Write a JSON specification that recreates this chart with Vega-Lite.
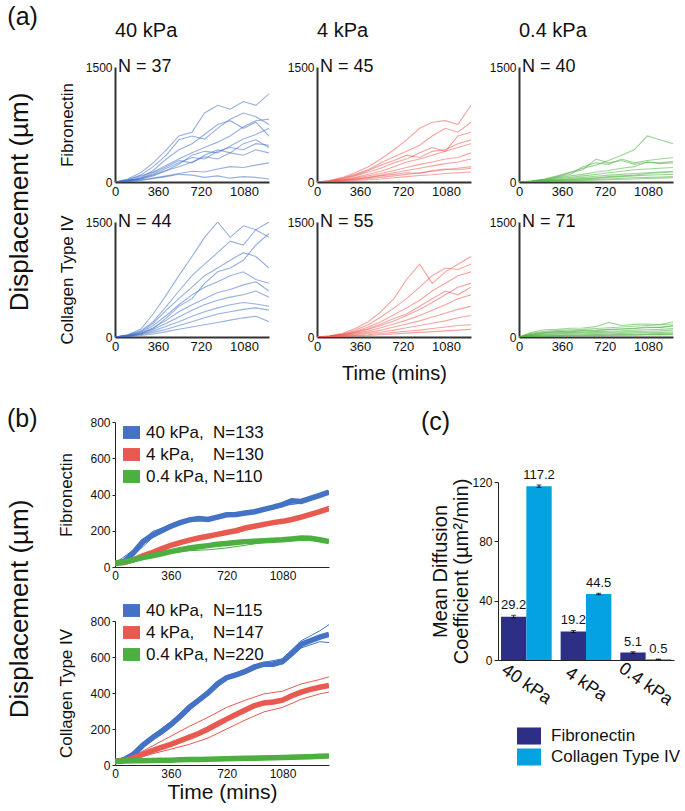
{
"$schema":"https://vega.github.io/schema/vega-lite/v6.json",
"background":"white",
"padding":{"left":6,"top":5,"right":4,"bottom":4},
"config":{
 "font":"Liberation Sans",
 "view":{"stroke":null},
 "axis":{"grid":false,"ticks":false,"domainColor":"#333","labelColor":"#111","titleColor":"#111","titleFontWeight":"normal","labelFont":"Liberation Sans","titleFont":"Liberation Sans","labelFlush":false,"labelOverlap":false},
 "axisX":{"labelFontSize":13,"labelPadding":3,"domainWidth":2},
 "axisY":{"labelFontSize":12,"labelPadding":3,"domainWidth":2,"titleFontSize":17,"titlePadding":9},
 "title":{"fontWeight":"normal","font":"Liberation Sans","color":"#111"},
 "text":{"font":"Liberation Sans","color":"#111"},
 "legend":{"labelFont":"Liberation Sans","labelColor":"#111"}
},
"datasets":{
"a1":[
{"i":1,"t":0,"v":0},{"i":1,"t":105,"v":40},{"i":1,"t":215,"v":120},{"i":1,"t":320,"v":250},{"i":1,"t":430,"v":420},{"i":1,"t":535,"v":600},{"i":1,"t":645,"v":650},{"i":1,"t":750,"v":900},{"i":1,"t":860,"v":1000},{"i":1,"t":965,"v":950},{"i":1,"t":1075,"v":1050},{"i":1,"t":1180,"v":1000},{"i":1,"t":1290,"v":1150},
{"i":2,"t":0,"v":0},{"i":2,"t":105,"v":30},{"i":2,"t":215,"v":90},{"i":2,"t":320,"v":200},{"i":2,"t":430,"v":350},{"i":2,"t":535,"v":550},{"i":2,"t":645,"v":600},{"i":2,"t":750,"v":560},{"i":2,"t":860,"v":700},{"i":2,"t":965,"v":820},{"i":2,"t":1075,"v":900},{"i":2,"t":1180,"v":850},{"i":2,"t":1290,"v":750},
{"i":3,"t":0,"v":0},{"i":3,"t":105,"v":20},{"i":3,"t":215,"v":60},{"i":3,"t":320,"v":150},{"i":3,"t":430,"v":300},{"i":3,"t":535,"v":420},{"i":3,"t":645,"v":500},{"i":3,"t":750,"v":620},{"i":3,"t":860,"v":750},{"i":3,"t":965,"v":800},{"i":3,"t":1075,"v":700},{"i":3,"t":1180,"v":780},{"i":3,"t":1290,"v":600},
{"i":4,"t":0,"v":0},{"i":4,"t":105,"v":25},{"i":4,"t":215,"v":80},{"i":4,"t":320,"v":130},{"i":4,"t":430,"v":220},{"i":4,"t":535,"v":300},{"i":4,"t":645,"v":380},{"i":4,"t":750,"v":450},{"i":4,"t":860,"v":520},{"i":4,"t":965,"v":600},{"i":4,"t":1075,"v":720},{"i":4,"t":1180,"v":800},{"i":4,"t":1290,"v":820},
{"i":5,"t":0,"v":0},{"i":5,"t":105,"v":15},{"i":5,"t":215,"v":50},{"i":5,"t":320,"v":100},{"i":5,"t":430,"v":180},{"i":5,"t":535,"v":250},{"i":5,"t":645,"v":320},{"i":5,"t":750,"v":300},{"i":5,"t":860,"v":400},{"i":5,"t":965,"v":450},{"i":5,"t":1075,"v":420},{"i":5,"t":1180,"v":500},{"i":5,"t":1290,"v":480},
{"i":6,"t":0,"v":0},{"i":6,"t":105,"v":20},{"i":6,"t":215,"v":40},{"i":6,"t":320,"v":90},{"i":6,"t":430,"v":150},{"i":6,"t":535,"v":200},{"i":6,"t":645,"v":260},{"i":6,"t":750,"v":330},{"i":6,"t":860,"v":300},{"i":6,"t":965,"v":380},{"i":6,"t":1075,"v":350},{"i":6,"t":1180,"v":420},{"i":6,"t":1290,"v":380},
{"i":7,"t":0,"v":0},{"i":7,"t":105,"v":15},{"i":7,"t":215,"v":45},{"i":7,"t":320,"v":120},{"i":7,"t":430,"v":200},{"i":7,"t":535,"v":280},{"i":7,"t":645,"v":250},{"i":7,"t":750,"v":350},{"i":7,"t":860,"v":420},{"i":7,"t":965,"v":380},{"i":7,"t":1075,"v":500},{"i":7,"t":1180,"v":550},{"i":7,"t":1290,"v":450},
{"i":8,"t":0,"v":0},{"i":8,"t":105,"v":12},{"i":8,"t":215,"v":35},{"i":8,"t":320,"v":80},{"i":8,"t":430,"v":150},{"i":8,"t":535,"v":230},{"i":8,"t":645,"v":350},{"i":8,"t":750,"v":400},{"i":8,"t":860,"v":380},{"i":8,"t":965,"v":470},{"i":8,"t":1075,"v":560},{"i":8,"t":1180,"v":620},{"i":8,"t":1290,"v":700},
{"i":9,"t":0,"v":0},{"i":9,"t":105,"v":10},{"i":9,"t":215,"v":25},{"i":9,"t":320,"v":50},{"i":9,"t":430,"v":80},{"i":9,"t":535,"v":110},{"i":9,"t":645,"v":140},{"i":9,"t":750,"v":130},{"i":9,"t":860,"v":170},{"i":9,"t":965,"v":200},{"i":9,"t":1075,"v":190},{"i":9,"t":1180,"v":220},{"i":9,"t":1290,"v":250},
{"i":10,"t":0,"v":0},{"i":10,"t":105,"v":8},{"i":10,"t":215,"v":20},{"i":10,"t":320,"v":45},{"i":10,"t":430,"v":70},{"i":10,"t":535,"v":100},{"i":10,"t":645,"v":90},{"i":10,"t":750,"v":60},{"i":10,"t":860,"v":80},{"i":10,"t":965,"v":50},{"i":10,"t":1075,"v":70},{"i":10,"t":1180,"v":60},{"i":10,"t":1290,"v":40}
],
"a2":[
{"i":1,"t":0,"v":0},{"i":1,"t":105,"v":20},{"i":1,"t":215,"v":60},{"i":1,"t":320,"v":120},{"i":1,"t":430,"v":200},{"i":1,"t":535,"v":300},{"i":1,"t":645,"v":420},{"i":1,"t":750,"v":550},{"i":1,"t":860,"v":700},{"i":1,"t":965,"v":780},{"i":1,"t":1075,"v":800},{"i":1,"t":1180,"v":750},{"i":1,"t":1290,"v":1000},
{"i":2,"t":0,"v":0},{"i":2,"t":105,"v":15},{"i":2,"t":215,"v":50},{"i":2,"t":320,"v":100},{"i":2,"t":430,"v":160},{"i":2,"t":535,"v":250},{"i":2,"t":645,"v":330},{"i":2,"t":750,"v":400},{"i":2,"t":860,"v":480},{"i":2,"t":965,"v":600},{"i":2,"t":1075,"v":700},{"i":2,"t":1180,"v":650},{"i":2,"t":1290,"v":780},
{"i":3,"t":0,"v":0},{"i":3,"t":105,"v":10},{"i":3,"t":215,"v":40},{"i":3,"t":320,"v":80},{"i":3,"t":430,"v":130},{"i":3,"t":535,"v":180},{"i":3,"t":645,"v":250},{"i":3,"t":750,"v":300},{"i":3,"t":860,"v":380},{"i":3,"t":965,"v":450},{"i":3,"t":1075,"v":400},{"i":3,"t":1180,"v":600},{"i":3,"t":1290,"v":650},
{"i":4,"t":0,"v":0},{"i":4,"t":105,"v":10},{"i":4,"t":215,"v":30},{"i":4,"t":320,"v":60},{"i":4,"t":430,"v":100},{"i":4,"t":535,"v":140},{"i":4,"t":645,"v":200},{"i":4,"t":750,"v":260},{"i":4,"t":860,"v":300},{"i":4,"t":965,"v":350},{"i":4,"t":1075,"v":400},{"i":4,"t":1180,"v":450},{"i":4,"t":1290,"v":500},
{"i":5,"t":0,"v":0},{"i":5,"t":105,"v":8},{"i":5,"t":215,"v":25},{"i":5,"t":320,"v":50},{"i":5,"t":430,"v":80},{"i":5,"t":535,"v":110},{"i":5,"t":645,"v":150},{"i":5,"t":750,"v":190},{"i":5,"t":860,"v":230},{"i":5,"t":965,"v":260},{"i":5,"t":1075,"v":300},{"i":5,"t":1180,"v":320},{"i":5,"t":1290,"v":380},
{"i":6,"t":0,"v":0},{"i":6,"t":105,"v":5},{"i":6,"t":215,"v":20},{"i":6,"t":320,"v":40},{"i":6,"t":430,"v":60},{"i":6,"t":535,"v":90},{"i":6,"t":645,"v":120},{"i":6,"t":750,"v":150},{"i":6,"t":860,"v":180},{"i":6,"t":965,"v":210},{"i":6,"t":1075,"v":240},{"i":6,"t":1180,"v":260},{"i":6,"t":1290,"v":300},
{"i":7,"t":0,"v":0},{"i":7,"t":105,"v":5},{"i":7,"t":215,"v":15},{"i":7,"t":320,"v":30},{"i":7,"t":430,"v":45},{"i":7,"t":535,"v":60},{"i":7,"t":645,"v":80},{"i":7,"t":750,"v":100},{"i":7,"t":860,"v":120},{"i":7,"t":965,"v":140},{"i":7,"t":1075,"v":160},{"i":7,"t":1180,"v":180},{"i":7,"t":1290,"v":200},
{"i":8,"t":0,"v":0},{"i":8,"t":105,"v":3},{"i":8,"t":215,"v":10},{"i":8,"t":320,"v":20},{"i":8,"t":430,"v":30},{"i":8,"t":535,"v":40},{"i":8,"t":645,"v":55},{"i":8,"t":750,"v":70},{"i":8,"t":860,"v":85},{"i":8,"t":965,"v":95},{"i":8,"t":1075,"v":110},{"i":8,"t":1180,"v":120},{"i":8,"t":1290,"v":130},
{"i":9,"t":0,"v":0},{"i":9,"t":105,"v":12},{"i":9,"t":215,"v":45},{"i":9,"t":320,"v":90},{"i":9,"t":430,"v":150},{"i":9,"t":535,"v":220},{"i":9,"t":645,"v":280},{"i":9,"t":750,"v":350},{"i":9,"t":860,"v":320},{"i":9,"t":965,"v":400},{"i":9,"t":1075,"v":420},{"i":9,"t":1180,"v":500},{"i":9,"t":1290,"v":550},
{"i":10,"t":0,"v":0},{"i":10,"t":105,"v":6},{"i":10,"t":215,"v":20},{"i":10,"t":320,"v":35},{"i":10,"t":430,"v":55},{"i":10,"t":535,"v":80},{"i":10,"t":645,"v":100},{"i":10,"t":750,"v":120},{"i":10,"t":860,"v":110},{"i":10,"t":965,"v":150},{"i":10,"t":1075,"v":170},{"i":10,"t":1180,"v":160},{"i":10,"t":1290,"v":180}
],
"a3":[
{"i":1,"t":0,"v":0},{"i":1,"t":105,"v":15},{"i":1,"t":215,"v":40},{"i":1,"t":320,"v":80},{"i":1,"t":430,"v":130},{"i":1,"t":535,"v":180},{"i":1,"t":645,"v":220},{"i":1,"t":750,"v":280},{"i":1,"t":860,"v":350},{"i":1,"t":965,"v":420},{"i":1,"t":1075,"v":600},{"i":1,"t":1180,"v":550},{"i":1,"t":1290,"v":500},
{"i":2,"t":0,"v":0},{"i":2,"t":105,"v":10},{"i":2,"t":215,"v":30},{"i":2,"t":320,"v":60},{"i":2,"t":430,"v":100},{"i":2,"t":535,"v":200},{"i":2,"t":645,"v":250},{"i":2,"t":750,"v":230},{"i":2,"t":860,"v":300},{"i":2,"t":965,"v":250},{"i":2,"t":1075,"v":280},{"i":2,"t":1180,"v":300},{"i":2,"t":1290,"v":320},
{"i":3,"t":0,"v":0},{"i":3,"t":105,"v":8},{"i":3,"t":215,"v":25},{"i":3,"t":320,"v":50},{"i":3,"t":430,"v":80},{"i":3,"t":535,"v":100},{"i":3,"t":645,"v":130},{"i":3,"t":750,"v":150},{"i":3,"t":860,"v":180},{"i":3,"t":965,"v":200},{"i":3,"t":1075,"v":260},{"i":3,"t":1180,"v":250},{"i":3,"t":1290,"v":270},
{"i":4,"t":0,"v":0},{"i":4,"t":105,"v":6},{"i":4,"t":215,"v":20},{"i":4,"t":320,"v":40},{"i":4,"t":430,"v":60},{"i":4,"t":535,"v":80},{"i":4,"t":645,"v":100},{"i":4,"t":750,"v":120},{"i":4,"t":860,"v":140},{"i":4,"t":965,"v":160},{"i":4,"t":1075,"v":170},{"i":4,"t":1180,"v":180},{"i":4,"t":1290,"v":190},
{"i":5,"t":0,"v":0},{"i":5,"t":105,"v":5},{"i":5,"t":215,"v":15},{"i":5,"t":320,"v":30},{"i":5,"t":430,"v":45},{"i":5,"t":535,"v":60},{"i":5,"t":645,"v":75},{"i":5,"t":750,"v":90},{"i":5,"t":860,"v":100},{"i":5,"t":965,"v":110},{"i":5,"t":1075,"v":120},{"i":5,"t":1180,"v":130},{"i":5,"t":1290,"v":140},
{"i":6,"t":0,"v":0},{"i":6,"t":105,"v":4},{"i":6,"t":215,"v":12},{"i":6,"t":320,"v":20},{"i":6,"t":430,"v":30},{"i":6,"t":535,"v":40},{"i":6,"t":645,"v":50},{"i":6,"t":750,"v":60},{"i":6,"t":860,"v":70},{"i":6,"t":965,"v":80},{"i":6,"t":1075,"v":90},{"i":6,"t":1180,"v":95},{"i":6,"t":1290,"v":100},
{"i":7,"t":0,"v":0},{"i":7,"t":105,"v":3},{"i":7,"t":215,"v":8},{"i":7,"t":320,"v":15},{"i":7,"t":430,"v":20},{"i":7,"t":535,"v":28},{"i":7,"t":645,"v":35},{"i":7,"t":750,"v":40},{"i":7,"t":860,"v":48},{"i":7,"t":965,"v":55},{"i":7,"t":1075,"v":60},{"i":7,"t":1180,"v":65},{"i":7,"t":1290,"v":70},
{"i":8,"t":0,"v":0},{"i":8,"t":105,"v":2},{"i":8,"t":215,"v":5},{"i":8,"t":320,"v":10},{"i":8,"t":430,"v":15},{"i":8,"t":535,"v":20},{"i":8,"t":645,"v":25},{"i":8,"t":750,"v":30},{"i":8,"t":860,"v":35},{"i":8,"t":965,"v":40},{"i":8,"t":1075,"v":45},{"i":8,"t":1180,"v":50},{"i":8,"t":1290,"v":55},
{"i":9,"t":0,"v":0},{"i":9,"t":105,"v":10},{"i":9,"t":215,"v":35},{"i":9,"t":320,"v":70},{"i":9,"t":430,"v":120},{"i":9,"t":535,"v":160},{"i":9,"t":645,"v":300},{"i":9,"t":750,"v":250},{"i":9,"t":860,"v":280},{"i":9,"t":965,"v":230},{"i":9,"t":1075,"v":260},{"i":9,"t":1180,"v":240},{"i":9,"t":1290,"v":250},
{"i":10,"t":0,"v":0},{"i":10,"t":105,"v":5},{"i":10,"t":215,"v":15},{"i":10,"t":320,"v":25},{"i":10,"t":430,"v":35},{"i":10,"t":535,"v":45},{"i":10,"t":645,"v":55},{"i":10,"t":750,"v":70},{"i":10,"t":860,"v":80},{"i":10,"t":965,"v":90},{"i":10,"t":1075,"v":110},{"i":10,"t":1180,"v":120},{"i":10,"t":1290,"v":130}
],
"a4":[
{"i":1,"t":0,"v":0},{"i":1,"t":105,"v":30},{"i":1,"t":215,"v":100},{"i":1,"t":320,"v":300},{"i":1,"t":430,"v":550},{"i":1,"t":535,"v":800},{"i":1,"t":645,"v":1050},{"i":1,"t":750,"v":1300},{"i":1,"t":860,"v":1500},{"i":1,"t":965,"v":1300},{"i":1,"t":1075,"v":1450},{"i":1,"t":1180,"v":1400},{"i":1,"t":1290,"v":1500},
{"i":2,"t":0,"v":0},{"i":2,"t":105,"v":25},{"i":2,"t":215,"v":80},{"i":2,"t":320,"v":200},{"i":2,"t":430,"v":400},{"i":2,"t":535,"v":600},{"i":2,"t":645,"v":800},{"i":2,"t":750,"v":950},{"i":2,"t":860,"v":1100},{"i":2,"t":965,"v":1250},{"i":2,"t":1075,"v":1200},{"i":2,"t":1180,"v":1400},{"i":2,"t":1290,"v":1300},
{"i":3,"t":0,"v":0},{"i":3,"t":105,"v":20},{"i":3,"t":215,"v":70},{"i":3,"t":320,"v":180},{"i":3,"t":430,"v":350},{"i":3,"t":535,"v":500},{"i":3,"t":645,"v":650},{"i":3,"t":750,"v":800},{"i":3,"t":860,"v":900},{"i":3,"t":965,"v":1000},{"i":3,"t":1075,"v":1100},{"i":3,"t":1180,"v":1050},{"i":3,"t":1290,"v":900},
{"i":4,"t":0,"v":0},{"i":4,"t":105,"v":20},{"i":4,"t":215,"v":60},{"i":4,"t":320,"v":150},{"i":4,"t":430,"v":280},{"i":4,"t":535,"v":420},{"i":4,"t":645,"v":550},{"i":4,"t":750,"v":650},{"i":4,"t":860,"v":720},{"i":4,"t":965,"v":800},{"i":4,"t":1075,"v":850},{"i":4,"t":1180,"v":750},{"i":4,"t":1290,"v":700},
{"i":5,"t":0,"v":0},{"i":5,"t":105,"v":15},{"i":5,"t":215,"v":50},{"i":5,"t":320,"v":120},{"i":5,"t":430,"v":220},{"i":5,"t":535,"v":330},{"i":5,"t":645,"v":420},{"i":5,"t":750,"v":500},{"i":5,"t":860,"v":580},{"i":5,"t":965,"v":620},{"i":5,"t":1075,"v":680},{"i":5,"t":1180,"v":720},{"i":5,"t":1290,"v":600},
{"i":6,"t":0,"v":0},{"i":6,"t":105,"v":15},{"i":6,"t":215,"v":40},{"i":6,"t":320,"v":100},{"i":6,"t":430,"v":180},{"i":6,"t":535,"v":260},{"i":6,"t":645,"v":350},{"i":6,"t":750,"v":420},{"i":6,"t":860,"v":480},{"i":6,"t":965,"v":520},{"i":6,"t":1075,"v":550},{"i":6,"t":1180,"v":600},{"i":6,"t":1290,"v":520},
{"i":7,"t":0,"v":0},{"i":7,"t":105,"v":10},{"i":7,"t":215,"v":35},{"i":7,"t":320,"v":80},{"i":7,"t":430,"v":140},{"i":7,"t":535,"v":200},{"i":7,"t":645,"v":270},{"i":7,"t":750,"v":330},{"i":7,"t":860,"v":380},{"i":7,"t":965,"v":420},{"i":7,"t":1075,"v":450},{"i":7,"t":1180,"v":430},{"i":7,"t":1290,"v":400},
{"i":8,"t":0,"v":0},{"i":8,"t":105,"v":10},{"i":8,"t":215,"v":30},{"i":8,"t":320,"v":60},{"i":8,"t":430,"v":100},{"i":8,"t":535,"v":150},{"i":8,"t":645,"v":200},{"i":8,"t":750,"v":250},{"i":8,"t":860,"v":300},{"i":8,"t":965,"v":330},{"i":8,"t":1075,"v":360},{"i":8,"t":1180,"v":380},{"i":8,"t":1290,"v":350},
{"i":9,"t":0,"v":0},{"i":9,"t":105,"v":8},{"i":9,"t":215,"v":20},{"i":9,"t":320,"v":40},{"i":9,"t":430,"v":70},{"i":9,"t":535,"v":100},{"i":9,"t":645,"v":130},{"i":9,"t":750,"v":160},{"i":9,"t":860,"v":190},{"i":9,"t":965,"v":220},{"i":9,"t":1075,"v":250},{"i":9,"t":1180,"v":270},{"i":9,"t":1290,"v":200},
{"i":10,"t":0,"v":0},{"i":10,"t":105,"v":12},{"i":10,"t":215,"v":45},{"i":10,"t":320,"v":110},{"i":10,"t":430,"v":250},{"i":10,"t":535,"v":400},{"i":10,"t":645,"v":500},{"i":10,"t":750,"v":700},{"i":10,"t":860,"v":850},{"i":10,"t":965,"v":900},{"i":10,"t":1075,"v":1000},{"i":10,"t":1180,"v":1200},{"i":10,"t":1290,"v":1350}
],
"a5":[
{"i":1,"t":0,"v":0},{"i":1,"t":105,"v":15},{"i":1,"t":215,"v":50},{"i":1,"t":320,"v":110},{"i":1,"t":430,"v":200},{"i":1,"t":535,"v":330},{"i":1,"t":645,"v":500},{"i":1,"t":750,"v":750},{"i":1,"t":860,"v":950},{"i":1,"t":965,"v":700},{"i":1,"t":1075,"v":850},{"i":1,"t":1180,"v":950},{"i":1,"t":1290,"v":1050},
{"i":2,"t":0,"v":0},{"i":2,"t":105,"v":12},{"i":2,"t":215,"v":40},{"i":2,"t":320,"v":90},{"i":2,"t":430,"v":160},{"i":2,"t":535,"v":260},{"i":2,"t":645,"v":380},{"i":2,"t":750,"v":500},{"i":2,"t":860,"v":650},{"i":2,"t":965,"v":800},{"i":2,"t":1075,"v":900},{"i":2,"t":1180,"v":880},{"i":2,"t":1290,"v":950},
{"i":3,"t":0,"v":0},{"i":3,"t":105,"v":10},{"i":3,"t":215,"v":35},{"i":3,"t":320,"v":75},{"i":3,"t":430,"v":130},{"i":3,"t":535,"v":200},{"i":3,"t":645,"v":290},{"i":3,"t":750,"v":380},{"i":3,"t":860,"v":480},{"i":3,"t":965,"v":600},{"i":3,"t":1075,"v":700},{"i":3,"t":1180,"v":800},{"i":3,"t":1290,"v":850},
{"i":4,"t":0,"v":0},{"i":4,"t":105,"v":8},{"i":4,"t":215,"v":30},{"i":4,"t":320,"v":60},{"i":4,"t":430,"v":100},{"i":4,"t":535,"v":150},{"i":4,"t":645,"v":210},{"i":4,"t":750,"v":280},{"i":4,"t":860,"v":360},{"i":4,"t":965,"v":450},{"i":4,"t":1075,"v":550},{"i":4,"t":1180,"v":650},{"i":4,"t":1290,"v":700},
{"i":5,"t":0,"v":0},{"i":5,"t":105,"v":8},{"i":5,"t":215,"v":25},{"i":5,"t":320,"v":50},{"i":5,"t":430,"v":80},{"i":5,"t":535,"v":120},{"i":5,"t":645,"v":170},{"i":5,"t":750,"v":220},{"i":5,"t":860,"v":280},{"i":5,"t":965,"v":350},{"i":5,"t":1075,"v":420},{"i":5,"t":1180,"v":500},{"i":5,"t":1290,"v":550},
{"i":6,"t":0,"v":0},{"i":6,"t":105,"v":6},{"i":6,"t":215,"v":20},{"i":6,"t":320,"v":40},{"i":6,"t":430,"v":60},{"i":6,"t":535,"v":90},{"i":6,"t":645,"v":130},{"i":6,"t":750,"v":170},{"i":6,"t":860,"v":210},{"i":6,"t":965,"v":260},{"i":6,"t":1075,"v":310},{"i":6,"t":1180,"v":360},{"i":6,"t":1290,"v":400},
{"i":7,"t":0,"v":0},{"i":7,"t":105,"v":5},{"i":7,"t":215,"v":15},{"i":7,"t":320,"v":30},{"i":7,"t":430,"v":45},{"i":7,"t":535,"v":65},{"i":7,"t":645,"v":90},{"i":7,"t":750,"v":120},{"i":7,"t":860,"v":150},{"i":7,"t":965,"v":180},{"i":7,"t":1075,"v":210},{"i":7,"t":1180,"v":250},{"i":7,"t":1290,"v":280},
{"i":8,"t":0,"v":0},{"i":8,"t":105,"v":4},{"i":8,"t":215,"v":10},{"i":8,"t":320,"v":20},{"i":8,"t":430,"v":30},{"i":8,"t":535,"v":45},{"i":8,"t":645,"v":60},{"i":8,"t":750,"v":75},{"i":8,"t":860,"v":90},{"i":8,"t":965,"v":110},{"i":8,"t":1075,"v":130},{"i":8,"t":1180,"v":150},{"i":8,"t":1290,"v":160},
{"i":9,"t":0,"v":0},{"i":9,"t":105,"v":3},{"i":9,"t":215,"v":8},{"i":9,"t":320,"v":15},{"i":9,"t":430,"v":20},{"i":9,"t":535,"v":30},{"i":9,"t":645,"v":40},{"i":9,"t":750,"v":50},{"i":9,"t":860,"v":60},{"i":9,"t":965,"v":70},{"i":9,"t":1075,"v":80},{"i":9,"t":1180,"v":90},{"i":9,"t":1290,"v":100},
{"i":10,"t":0,"v":0},{"i":10,"t":105,"v":10},{"i":10,"t":215,"v":30},{"i":10,"t":320,"v":65},{"i":10,"t":430,"v":110},{"i":10,"t":535,"v":170},{"i":10,"t":645,"v":240},{"i":10,"t":750,"v":300},{"i":10,"t":860,"v":400},{"i":10,"t":965,"v":500},{"i":10,"t":1075,"v":600},{"i":10,"t":1180,"v":550},{"i":10,"t":1290,"v":650}
],
"a6":[
{"i":1,"t":0,"v":0},{"i":1,"t":105,"v":60},{"i":1,"t":215,"v":95},{"i":1,"t":320,"v":100},{"i":1,"t":430,"v":115},{"i":1,"t":535,"v":118},{"i":1,"t":645,"v":135},{"i":1,"t":750,"v":190},{"i":1,"t":860,"v":150},{"i":1,"t":965,"v":165},{"i":1,"t":1075,"v":170},{"i":1,"t":1180,"v":160},{"i":1,"t":1290,"v":200},
{"i":2,"t":0,"v":0},{"i":2,"t":105,"v":50},{"i":2,"t":215,"v":75},{"i":2,"t":320,"v":85},{"i":2,"t":430,"v":95},{"i":2,"t":535,"v":100},{"i":2,"t":645,"v":110},{"i":2,"t":750,"v":120},{"i":2,"t":860,"v":130},{"i":2,"t":965,"v":140},{"i":2,"t":1075,"v":150},{"i":2,"t":1180,"v":160},{"i":2,"t":1290,"v":170},
{"i":3,"t":0,"v":0},{"i":3,"t":105,"v":40},{"i":3,"t":215,"v":60},{"i":3,"t":320,"v":70},{"i":3,"t":430,"v":80},{"i":3,"t":535,"v":85},{"i":3,"t":645,"v":90},{"i":3,"t":750,"v":100},{"i":3,"t":860,"v":105},{"i":3,"t":965,"v":110},{"i":3,"t":1075,"v":120},{"i":3,"t":1180,"v":125},{"i":3,"t":1290,"v":140},
{"i":4,"t":0,"v":0},{"i":4,"t":105,"v":30},{"i":4,"t":215,"v":50},{"i":4,"t":320,"v":55},{"i":4,"t":430,"v":60},{"i":4,"t":535,"v":65},{"i":4,"t":645,"v":70},{"i":4,"t":750,"v":75},{"i":4,"t":860,"v":80},{"i":4,"t":965,"v":90},{"i":4,"t":1075,"v":95},{"i":4,"t":1180,"v":100},{"i":4,"t":1290,"v":110},
{"i":5,"t":0,"v":0},{"i":5,"t":105,"v":25},{"i":5,"t":215,"v":40},{"i":5,"t":320,"v":45},{"i":5,"t":430,"v":50},{"i":5,"t":535,"v":55},{"i":5,"t":645,"v":60},{"i":5,"t":750,"v":62},{"i":5,"t":860,"v":65},{"i":5,"t":965,"v":70},{"i":5,"t":1075,"v":75},{"i":5,"t":1180,"v":80},{"i":5,"t":1290,"v":90},
{"i":6,"t":0,"v":0},{"i":6,"t":105,"v":20},{"i":6,"t":215,"v":30},{"i":6,"t":320,"v":35},{"i":6,"t":430,"v":40},{"i":6,"t":535,"v":42},{"i":6,"t":645,"v":45},{"i":6,"t":750,"v":48},{"i":6,"t":860,"v":50},{"i":6,"t":965,"v":55},{"i":6,"t":1075,"v":58},{"i":6,"t":1180,"v":60},{"i":6,"t":1290,"v":65},
{"i":7,"t":0,"v":0},{"i":7,"t":105,"v":15},{"i":7,"t":215,"v":22},{"i":7,"t":320,"v":25},{"i":7,"t":430,"v":28},{"i":7,"t":535,"v":30},{"i":7,"t":645,"v":32},{"i":7,"t":750,"v":35},{"i":7,"t":860,"v":38},{"i":7,"t":965,"v":40},{"i":7,"t":1075,"v":42},{"i":7,"t":1180,"v":45},{"i":7,"t":1290,"v":50},
{"i":8,"t":0,"v":0},{"i":8,"t":105,"v":10},{"i":8,"t":215,"v":15},{"i":8,"t":320,"v":18},{"i":8,"t":430,"v":20},{"i":8,"t":535,"v":22},{"i":8,"t":645,"v":24},{"i":8,"t":750,"v":26},{"i":8,"t":860,"v":28},{"i":8,"t":965,"v":30},{"i":8,"t":1075,"v":32},{"i":8,"t":1180,"v":34},{"i":8,"t":1290,"v":36},
{"i":9,"t":0,"v":0},{"i":9,"t":105,"v":8},{"i":9,"t":215,"v":10},{"i":9,"t":320,"v":12},{"i":9,"t":430,"v":14},{"i":9,"t":535,"v":16},{"i":9,"t":645,"v":18},{"i":9,"t":750,"v":20},{"i":9,"t":860,"v":22},{"i":9,"t":965,"v":24},{"i":9,"t":1075,"v":26},{"i":9,"t":1180,"v":28},{"i":9,"t":1290,"v":30},
{"i":10,"t":0,"v":0},{"i":10,"t":105,"v":35},{"i":10,"t":215,"v":55},{"i":10,"t":320,"v":70},{"i":10,"t":430,"v":68},{"i":10,"t":535,"v":80},{"i":10,"t":645,"v":85},{"i":10,"t":750,"v":95},{"i":10,"t":860,"v":105},{"i":10,"t":965,"v":115},{"i":10,"t":1075,"v":130},{"i":10,"t":1180,"v":125},{"i":10,"t":1290,"v":150}
],
"b1":[
{"s":"40","k":"m","t":0,"v":20},{"s":"40","k":"m","t":60,"v":30},{"s":"40","k":"m","t":120,"v":80},{"s":"40","k":"m","t":180,"v":140},{"s":"40","k":"m","t":240,"v":175},{"s":"40","k":"m","t":300,"v":200},{"s":"40","k":"m","t":360,"v":225},{"s":"40","k":"m","t":420,"v":245},{"s":"40","k":"m","t":480,"v":260},{"s":"40","k":"m","t":540,"v":268},{"s":"40","k":"m","t":600,"v":262},{"s":"40","k":"m","t":660,"v":275},{"s":"40","k":"m","t":720,"v":288},{"s":"40","k":"m","t":780,"v":290},{"s":"40","k":"m","t":840,"v":298},{"s":"40","k":"m","t":900,"v":305},{"s":"40","k":"m","t":960,"v":318},{"s":"40","k":"m","t":1020,"v":330},{"s":"40","k":"m","t":1080,"v":344},{"s":"40","k":"m","t":1140,"v":365},{"s":"40","k":"m","t":1200,"v":362},{"s":"40","k":"m","t":1260,"v":378},{"s":"40","k":"m","t":1320,"v":395},{"s":"40","k":"m","t":1380,"v":413},
{"s":"4","k":"m","t":0,"v":20},{"s":"4","k":"m","t":60,"v":25},{"s":"4","k":"m","t":120,"v":40},{"s":"4","k":"m","t":180,"v":62},{"s":"4","k":"m","t":240,"v":80},{"s":"4","k":"m","t":300,"v":100},{"s":"4","k":"m","t":360,"v":120},{"s":"4","k":"m","t":420,"v":135},{"s":"4","k":"m","t":480,"v":148},{"s":"4","k":"m","t":540,"v":160},{"s":"4","k":"m","t":600,"v":170},{"s":"4","k":"m","t":660,"v":180},{"s":"4","k":"m","t":720,"v":190},{"s":"4","k":"m","t":780,"v":200},{"s":"4","k":"m","t":840,"v":215},{"s":"4","k":"m","t":900,"v":225},{"s":"4","k":"m","t":960,"v":235},{"s":"4","k":"m","t":1020,"v":245},{"s":"4","k":"m","t":1080,"v":252},{"s":"4","k":"m","t":1140,"v":262},{"s":"4","k":"m","t":1200,"v":275},{"s":"4","k":"m","t":1260,"v":290},{"s":"4","k":"m","t":1320,"v":305},{"s":"4","k":"m","t":1380,"v":322},
{"s":"0.4","k":"m","t":0,"v":20},{"s":"0.4","k":"m","t":60,"v":28},{"s":"0.4","k":"m","t":120,"v":40},{"s":"0.4","k":"m","t":180,"v":52},{"s":"0.4","k":"m","t":240,"v":62},{"s":"0.4","k":"m","t":300,"v":73},{"s":"0.4","k":"m","t":360,"v":85},{"s":"0.4","k":"m","t":420,"v":95},{"s":"0.4","k":"m","t":480,"v":105},{"s":"0.4","k":"m","t":540,"v":112},{"s":"0.4","k":"m","t":600,"v":118},{"s":"0.4","k":"m","t":660,"v":125},{"s":"0.4","k":"m","t":720,"v":130},{"s":"0.4","k":"m","t":780,"v":135},{"s":"0.4","k":"m","t":840,"v":140},{"s":"0.4","k":"m","t":900,"v":142},{"s":"0.4","k":"m","t":960,"v":145},{"s":"0.4","k":"m","t":1020,"v":148},{"s":"0.4","k":"m","t":1080,"v":150},{"s":"0.4","k":"m","t":1140,"v":155},{"s":"0.4","k":"m","t":1200,"v":160},{"s":"0.4","k":"m","t":1260,"v":158},{"s":"0.4","k":"m","t":1320,"v":150},{"s":"0.4","k":"m","t":1380,"v":141},
{"s":"40","k":"h","t":0,"v":20},{"s":"40","k":"h","t":120,"v":95},{"s":"40","k":"h","t":240,"v":195},{"s":"40","k":"h","t":360,"v":232},{"s":"40","k":"h","t":480,"v":265},{"s":"40","k":"h","t":600,"v":270},{"s":"40","k":"h","t":720,"v":292},{"s":"40","k":"h","t":840,"v":303},{"s":"40","k":"h","t":960,"v":322},{"s":"40","k":"h","t":1080,"v":350},{"s":"40","k":"h","t":1200,"v":372},{"s":"40","k":"h","t":1320,"v":400},{"s":"40","k":"h","t":1380,"v":418},
{"s":"40","k":"l","t":0,"v":20},{"s":"40","k":"l","t":120,"v":65},{"s":"40","k":"l","t":240,"v":160},{"s":"40","k":"l","t":360,"v":218},{"s":"40","k":"l","t":480,"v":252},{"s":"40","k":"l","t":600,"v":255},{"s":"40","k":"l","t":720,"v":282},{"s":"40","k":"l","t":840,"v":292},{"s":"40","k":"l","t":960,"v":312},{"s":"40","k":"l","t":1080,"v":338},{"s":"40","k":"l","t":1200,"v":352},{"s":"40","k":"l","t":1320,"v":388},{"s":"40","k":"l","t":1380,"v":408},
{"s":"4","k":"h","t":0,"v":20},{"s":"4","k":"h","t":120,"v":45},{"s":"4","k":"h","t":240,"v":88},{"s":"4","k":"h","t":360,"v":128},{"s":"4","k":"h","t":480,"v":155},{"s":"4","k":"h","t":600,"v":178},{"s":"4","k":"h","t":720,"v":196},{"s":"4","k":"h","t":840,"v":222},{"s":"4","k":"h","t":960,"v":242},{"s":"4","k":"h","t":1080,"v":258},{"s":"4","k":"h","t":1200,"v":282},{"s":"4","k":"h","t":1320,"v":312},{"s":"4","k":"h","t":1380,"v":335},
{"s":"4","k":"l","t":0,"v":20},{"s":"4","k":"l","t":120,"v":35},{"s":"4","k":"l","t":240,"v":72},{"s":"4","k":"l","t":360,"v":112},{"s":"4","k":"l","t":480,"v":140},{"s":"4","k":"l","t":600,"v":162},{"s":"4","k":"l","t":720,"v":184},{"s":"4","k":"l","t":840,"v":208},{"s":"4","k":"l","t":960,"v":228},{"s":"4","k":"l","t":1080,"v":246},{"s":"4","k":"l","t":1200,"v":268},{"s":"4","k":"l","t":1320,"v":298},{"s":"4","k":"l","t":1380,"v":315},
{"s":"0.4","k":"h","t":0,"v":20},{"s":"0.4","k":"h","t":120,"v":45},{"s":"0.4","k":"h","t":240,"v":70},{"s":"0.4","k":"h","t":360,"v":92},{"s":"0.4","k":"h","t":480,"v":112},{"s":"0.4","k":"h","t":600,"v":128},{"s":"0.4","k":"h","t":720,"v":140},{"s":"0.4","k":"h","t":840,"v":150},{"s":"0.4","k":"h","t":960,"v":152},{"s":"0.4","k":"h","t":1080,"v":156},{"s":"0.4","k":"h","t":1200,"v":165},{"s":"0.4","k":"h","t":1320,"v":155},{"s":"0.4","k":"h","t":1380,"v":145},
{"s":"0.4","k":"l","t":0,"v":20},{"s":"0.4","k":"l","t":120,"v":35},{"s":"0.4","k":"l","t":240,"v":55},{"s":"0.4","k":"l","t":360,"v":78},{"s":"0.4","k":"l","t":480,"v":90},{"s":"0.4","k":"l","t":600,"v":95},{"s":"0.4","k":"l","t":720,"v":105},{"s":"0.4","k":"l","t":840,"v":120},{"s":"0.4","k":"l","t":960,"v":135},{"s":"0.4","k":"l","t":1080,"v":144},{"s":"0.4","k":"l","t":1200,"v":155},{"s":"0.4","k":"l","t":1320,"v":146},{"s":"0.4","k":"l","t":1380,"v":138}
],
"b2":[
{"s":"40","k":"m","t":0,"v":20},{"s":"40","k":"m","t":60,"v":28},{"s":"40","k":"m","t":120,"v":60},{"s":"40","k":"m","t":180,"v":110},{"s":"40","k":"m","t":240,"v":150},{"s":"40","k":"m","t":300,"v":185},{"s":"40","k":"m","t":360,"v":225},{"s":"40","k":"m","t":420,"v":270},{"s":"40","k":"m","t":480,"v":320},{"s":"40","k":"m","t":540,"v":360},{"s":"40","k":"m","t":600,"v":400},{"s":"40","k":"m","t":660,"v":450},{"s":"40","k":"m","t":720,"v":485},{"s":"40","k":"m","t":780,"v":500},{"s":"40","k":"m","t":840,"v":520},{"s":"40","k":"m","t":900,"v":545},{"s":"40","k":"m","t":960,"v":560},{"s":"40","k":"m","t":1020,"v":560},{"s":"40","k":"m","t":1080,"v":575},{"s":"40","k":"m","t":1140,"v":620},{"s":"40","k":"m","t":1200,"v":670},{"s":"40","k":"m","t":1260,"v":690},{"s":"40","k":"m","t":1320,"v":710},{"s":"40","k":"m","t":1380,"v":725},
{"s":"4","k":"m","t":0,"v":20},{"s":"4","k":"m","t":60,"v":25},{"s":"4","k":"m","t":120,"v":40},{"s":"4","k":"m","t":180,"v":60},{"s":"4","k":"m","t":240,"v":80},{"s":"4","k":"m","t":300,"v":98},{"s":"4","k":"m","t":360,"v":115},{"s":"4","k":"m","t":420,"v":135},{"s":"4","k":"m","t":480,"v":155},{"s":"4","k":"m","t":540,"v":175},{"s":"4","k":"m","t":600,"v":200},{"s":"4","k":"m","t":660,"v":228},{"s":"4","k":"m","t":720,"v":255},{"s":"4","k":"m","t":780,"v":280},{"s":"4","k":"m","t":840,"v":305},{"s":"4","k":"m","t":900,"v":330},{"s":"4","k":"m","t":960,"v":345},{"s":"4","k":"m","t":1020,"v":350},{"s":"4","k":"m","t":1080,"v":360},{"s":"4","k":"m","t":1140,"v":385},{"s":"4","k":"m","t":1200,"v":405},{"s":"4","k":"m","t":1260,"v":420},{"s":"4","k":"m","t":1320,"v":432},{"s":"4","k":"m","t":1380,"v":442},
{"s":"0.4","k":"m","t":0,"v":20},{"s":"0.4","k":"m","t":60,"v":22},{"s":"0.4","k":"m","t":120,"v":23},{"s":"0.4","k":"m","t":180,"v":24},{"s":"0.4","k":"m","t":240,"v":25},{"s":"0.4","k":"m","t":300,"v":26},{"s":"0.4","k":"m","t":360,"v":27},{"s":"0.4","k":"m","t":420,"v":29},{"s":"0.4","k":"m","t":480,"v":30},{"s":"0.4","k":"m","t":540,"v":31},{"s":"0.4","k":"m","t":600,"v":32},{"s":"0.4","k":"m","t":660,"v":33},{"s":"0.4","k":"m","t":720,"v":35},{"s":"0.4","k":"m","t":780,"v":36},{"s":"0.4","k":"m","t":840,"v":37},{"s":"0.4","k":"m","t":900,"v":38},{"s":"0.4","k":"m","t":960,"v":39},{"s":"0.4","k":"m","t":1020,"v":40},{"s":"0.4","k":"m","t":1080,"v":42},{"s":"0.4","k":"m","t":1140,"v":43},{"s":"0.4","k":"m","t":1200,"v":45},{"s":"0.4","k":"m","t":1260,"v":46},{"s":"0.4","k":"m","t":1320,"v":48},{"s":"0.4","k":"m","t":1380,"v":50},
{"s":"40","k":"h","t":0,"v":20},{"s":"40","k":"h","t":120,"v":70},{"s":"40","k":"h","t":240,"v":165},{"s":"40","k":"h","t":360,"v":240},{"s":"40","k":"h","t":480,"v":335},{"s":"40","k":"h","t":600,"v":410},{"s":"40","k":"h","t":720,"v":495},{"s":"40","k":"h","t":840,"v":530},{"s":"40","k":"h","t":960,"v":570},{"s":"40","k":"h","t":1080,"v":590},{"s":"40","k":"h","t":1200,"v":690},{"s":"40","k":"h","t":1320,"v":745},{"s":"40","k":"h","t":1380,"v":780},
{"s":"40","k":"l","t":0,"v":20},{"s":"40","k":"l","t":120,"v":52},{"s":"40","k":"l","t":240,"v":140},{"s":"40","k":"l","t":360,"v":212},{"s":"40","k":"l","t":480,"v":305},{"s":"40","k":"l","t":600,"v":390},{"s":"40","k":"l","t":720,"v":475},{"s":"40","k":"l","t":840,"v":510},{"s":"40","k":"l","t":960,"v":552},{"s":"40","k":"l","t":1080,"v":562},{"s":"40","k":"l","t":1200,"v":650},{"s":"40","k":"l","t":1320,"v":685},{"s":"40","k":"l","t":1380,"v":680},
{"s":"4","k":"h","t":0,"v":20},{"s":"4","k":"h","t":120,"v":50},{"s":"4","k":"h","t":240,"v":105},{"s":"4","k":"h","t":360,"v":160},{"s":"4","k":"h","t":480,"v":215},{"s":"4","k":"h","t":600,"v":265},{"s":"4","k":"h","t":720,"v":320},{"s":"4","k":"h","t":840,"v":360},{"s":"4","k":"h","t":960,"v":395},{"s":"4","k":"h","t":1080,"v":410},{"s":"4","k":"h","t":1200,"v":450},{"s":"4","k":"h","t":1320,"v":475},{"s":"4","k":"h","t":1380,"v":490},
{"s":"4","k":"l","t":0,"v":20},{"s":"4","k":"l","t":120,"v":32},{"s":"4","k":"l","t":240,"v":62},{"s":"4","k":"l","t":360,"v":88},{"s":"4","k":"l","t":480,"v":115},{"s":"4","k":"l","t":600,"v":150},{"s":"4","k":"l","t":720,"v":200},{"s":"4","k":"l","t":840,"v":250},{"s":"4","k":"l","t":960,"v":295},{"s":"4","k":"l","t":1080,"v":320},{"s":"4","k":"l","t":1200,"v":365},{"s":"4","k":"l","t":1320,"v":395},{"s":"4","k":"l","t":1380,"v":405},
{"s":"0.4","k":"h","t":0,"v":20},{"s":"0.4","k":"h","t":120,"v":25},{"s":"0.4","k":"h","t":240,"v":29},{"s":"0.4","k":"h","t":360,"v":33},{"s":"0.4","k":"h","t":480,"v":37},{"s":"0.4","k":"h","t":600,"v":40},{"s":"0.4","k":"h","t":720,"v":44},{"s":"0.4","k":"h","t":840,"v":47},{"s":"0.4","k":"h","t":960,"v":50},{"s":"0.4","k":"h","t":1080,"v":52},{"s":"0.4","k":"h","t":1200,"v":55},{"s":"0.4","k":"h","t":1320,"v":57},{"s":"0.4","k":"h","t":1380,"v":58},
{"s":"0.4","k":"l","t":0,"v":20},{"s":"0.4","k":"l","t":120,"v":21},{"s":"0.4","k":"l","t":240,"v":23},{"s":"0.4","k":"l","t":360,"v":25},{"s":"0.4","k":"l","t":480,"v":27},{"s":"0.4","k":"l","t":600,"v":29},{"s":"0.4","k":"l","t":720,"v":31},{"s":"0.4","k":"l","t":840,"v":33},{"s":"0.4","k":"l","t":960,"v":35},{"s":"0.4","k":"l","t":1080,"v":37},{"s":"0.4","k":"l","t":1200,"v":39},{"s":"0.4","k":"l","t":1320,"v":42},{"s":"0.4","k":"l","t":1380,"v":44}
],
"c":[
{"g":"40 kPa","s":"Fibronectin","v":29.2,"lo":28.3,"hi":30.1},
{"g":"40 kPa","s":"Collagen Type IV","v":117.2,"lo":116.4,"hi":118.0},
{"g":"4 kPa","s":"Fibronectin","v":19.2,"lo":18.5,"hi":19.9},
{"g":"4 kPa","s":"Collagen Type IV","v":44.5,"lo":44.0,"hi":45.0},
{"g":"0.4 kPa","s":"Fibronectin","v":5.1,"lo":4.6,"hi":5.6},
{"g":"0.4 kPa","s":"Collagen Type IV","v":0.5,"lo":0.4,"hi":0.6}
]
},
"spacing":24,
"vconcat":[
{
 "title":{"text":"(a)","anchor":"start","fontSize":25,"offset":-9},
 "vconcat":[{
  "title":{"text":"Displacement (µm)","orient":"left","anchor":"middle","frame":"bounds","fontSize":26,"offset":25},
  "spacing":15,
  "vconcat":[
   {"spacing":18,"hconcat":[
    {"width":154,"height":115,
     "title":{"text":"40 kPa","anchor":"start","frame":"group","fontSize":20,"offset":17},
     "layer":[
      {"data":{"name":"a1"},"mark":{"type":"line","color":"#3f70c4","strokeWidth":1.1,"opacity":0.55,"clip":true},
       "encoding":{"x":{"field":"t","type":"quantitative","scale":{"domain":[0,1290],"nice":false},"axis":{"values":[0,360,720,1080],"format":"d","title":null}},
        "y":{"field":"v","type":"quantitative","scale":{"domain":[0,1500],"nice":false},"axis":{"values":[0,500,1000,1500],"format":"d","title":"Fibronectin"}},
        "detail":{"field":"i","type":"nominal"}}},
      {"data":{"values":[{"n":"N = 37"}]},"mark":{"type":"text","align":"left","baseline":"middle","dx":3,"fontSize":18},
       "encoding":{"x":{"datum":0,"type":"quantitative"},"y":{"datum":1500,"type":"quantitative"},"text":{"field":"n"}}}
     ]},
    {"width":154,"height":115,
     "title":{"text":"4 kPa","anchor":"start","frame":"group","fontSize":20,"offset":17},
     "layer":[
      {"data":{"name":"a2"},"mark":{"type":"line","color":"#ec5a52","strokeWidth":1.1,"opacity":0.55,"clip":true},
       "encoding":{"x":{"field":"t","type":"quantitative","scale":{"domain":[0,1290],"nice":false},"axis":{"values":[0,360,720,1080],"format":"d","title":null}},
        "y":{"field":"v","type":"quantitative","scale":{"domain":[0,1500],"nice":false},"axis":{"values":[0,500,1000,1500],"format":"d","title":null}},
        "detail":{"field":"i","type":"nominal"}}},
      {"data":{"values":[{"n":"N = 45"}]},"mark":{"type":"text","align":"left","baseline":"middle","dx":3,"fontSize":18},
       "encoding":{"x":{"datum":0,"type":"quantitative"},"y":{"datum":1500,"type":"quantitative"},"text":{"field":"n"}}}
     ]},
    {"width":154,"height":115,
     "title":{"text":"0.4 kPa","anchor":"start","frame":"group","fontSize":20,"offset":17},
     "layer":[
      {"data":{"name":"a3"},"mark":{"type":"line","color":"#4cb140","strokeWidth":1.1,"opacity":0.55,"clip":true},
       "encoding":{"x":{"field":"t","type":"quantitative","scale":{"domain":[0,1290],"nice":false},"axis":{"values":[0,360,720,1080],"format":"d","title":null}},
        "y":{"field":"v","type":"quantitative","scale":{"domain":[0,1500],"nice":false},"axis":{"values":[0,500,1000,1500],"format":"d","title":null}},
        "detail":{"field":"i","type":"nominal"}}},
      {"data":{"values":[{"n":"N = 40"}]},"mark":{"type":"text","align":"left","baseline":"middle","dx":3,"fontSize":18},
       "encoding":{"x":{"datum":0,"type":"quantitative"},"y":{"datum":1500,"type":"quantitative"},"text":{"field":"n"}}}
     ]}
   ]},
   {"spacing":18,"hconcat":[
    {"width":154,"height":115,
     "layer":[
      {"data":{"name":"a4"},"mark":{"type":"line","color":"#3f70c4","strokeWidth":1.1,"opacity":0.55,"clip":true},
       "encoding":{"x":{"field":"t","type":"quantitative","scale":{"domain":[0,1290],"nice":false},"axis":{"values":[0,360,720,1080],"format":"d","title":null}},
        "y":{"field":"v","type":"quantitative","scale":{"domain":[0,1500],"nice":false},"axis":{"values":[0,500,1000,1500],"format":"d","title":"Collagen Type IV"}},
        "detail":{"field":"i","type":"nominal"}}},
      {"data":{"values":[{"n":"N = 44"}]},"mark":{"type":"text","align":"left","baseline":"middle","dx":3,"fontSize":18},
       "encoding":{"x":{"datum":0,"type":"quantitative"},"y":{"datum":1500,"type":"quantitative"},"text":{"field":"n"}}}
     ]},
    {"width":154,"height":115,
     "layer":[
      {"data":{"name":"a5"},"mark":{"type":"line","color":"#ec5a52","strokeWidth":1.1,"opacity":0.55,"clip":true},
       "encoding":{"x":{"field":"t","type":"quantitative","scale":{"domain":[0,1290],"nice":false},"axis":{"values":[0,360,720,1080],"format":"d","title":"Time (mins)","titleFontSize":20,"titlePadding":10}},
        "y":{"field":"v","type":"quantitative","scale":{"domain":[0,1500],"nice":false},"axis":{"values":[0,500,1000,1500],"format":"d","title":null}},
        "detail":{"field":"i","type":"nominal"}}},
      {"data":{"values":[{"n":"N = 55"}]},"mark":{"type":"text","align":"left","baseline":"middle","dx":3,"fontSize":18},
       "encoding":{"x":{"datum":0,"type":"quantitative"},"y":{"datum":1500,"type":"quantitative"},"text":{"field":"n"}}}
     ]},
    {"width":154,"height":115,
     "layer":[
      {"data":{"name":"a6"},"mark":{"type":"line","color":"#4cb140","strokeWidth":1.1,"opacity":0.55,"clip":true},
       "encoding":{"x":{"field":"t","type":"quantitative","scale":{"domain":[0,1290],"nice":false},"axis":{"values":[0,360,720,1080],"format":"d","title":null}},
        "y":{"field":"v","type":"quantitative","scale":{"domain":[0,1500],"nice":false},"axis":{"values":[0,500,1000,1500],"format":"d","title":null}},
        "detail":{"field":"i","type":"nominal"}}},
      {"data":{"values":[{"n":"N = 71"}]},"mark":{"type":"text","align":"left","baseline":"middle","dx":3,"fontSize":18},
       "encoding":{"x":{"datum":0,"type":"quantitative"},"y":{"datum":1500,"type":"quantitative"},"text":{"field":"n"}}}
     ]}
   ]}
  ]
 }]
},
{
 "spacing":92,
 "resolve":{"scale":{"color":"independent"},"legend":{"color":"independent"}},
 "hconcat":[
  {"vconcat":[{
   "title":{"text":"(b)","anchor":"start","fontSize":25,"offset":-16},
   "vconcat":[{
    "title":{"text":"Displacement (µm)","orient":"left","anchor":"middle","frame":"bounds","fontSize":26,"offset":25},
    "spacing":21,
    "resolve":{"scale":{"color":"independent"},"legend":{"color":"independent"}},
    "vconcat":[
     {"width":214,"height":145,
      "data":{"name":"b1"},
      "encoding":{
       "x":{"field":"t","type":"quantitative","scale":{"domain":[0,1380],"nice":false},"axis":{"values":[0,360,720,1080],"format":"d","title":null,"domainWidth":1,"domainColor":"#222","labelFontSize":12}},
       "y":{"field":"v","type":"quantitative","scale":{"domain":[0,800],"nice":false},"axis":{"values":[0,200,400,600,800],"format":"d","title":"Fibronectin","titlePadding":14,"domainWidth":1,"domainColor":"#222","ticks":true,"tickSize":3,"tickColor":"#222","labelFontSize":12,"labelPadding":2}},
       "color":{"field":"s","type":"nominal","scale":{"domain":["40","4","0.4"],"range":["#4472c4","#e8594f","#4caf3f"]},
        "legend":{"orient":"none","legendX":8,"legendY":2,"title":null,"symbolType":"M-1,-0.76H1V0.76H-1Z","symbolSize":289,"symbolStrokeWidth":0,"labelFontSize":17,"labelOffset":6,"rowPadding":4,
         "labelExpr":"datum.label == '40' ? '40 kPa,\u00a0\u00a0N=133' : datum.label == '4' ? '4 kPa,\u00a0\u00a0\u00a0\u00a0N=130' : '0.4 kPa, N=110'",
         "encode":{"symbols":{"update":{"fill":{"signal":"datum.value == '40' ? '#4472c4' : datum.value == '4' ? '#e8594f' : '#4caf3f'"},"fillOpacity":{"value":1},"strokeWidth":{"value":0},"opacity":{"value":1}}}}}}
      },
      "layer":[
       {"transform":[{"filter":"datum.k != 'm'"}],"mark":{"type":"line","strokeWidth":1,"clip":true},"encoding":{"detail":{"field":"k","type":"nominal"}}},
       {"transform":[{"filter":"datum.k == 'm'"}],"mark":{"type":"line","strokeWidth":5.5,"clip":true}}
      ]},
     {"width":214,"height":144,
      "data":{"name":"b2"},
      "encoding":{
       "x":{"field":"t","type":"quantitative","scale":{"domain":[0,1380],"nice":false},"axis":{"values":[0,360,720,1080],"format":"d","title":"Time (mins)","titleFontSize":21,"titlePadding":2,"domainWidth":1,"domainColor":"#222","labelFontSize":12}},
       "y":{"field":"v","type":"quantitative","scale":{"domain":[0,800],"nice":false},"axis":{"values":[0,200,400,600,800],"format":"d","title":"Collagen Type IV","titlePadding":14,"domainWidth":1,"domainColor":"#222","ticks":true,"tickSize":3,"tickColor":"#222","labelFontSize":12,"labelPadding":2}},
       "color":{"field":"s","type":"nominal","scale":{"domain":["40","4","0.4"],"range":["#4472c4","#e8594f","#4caf3f"]},
        "legend":{"orient":"none","legendX":8,"legendY":-19,"title":null,"symbolType":"M-1,-0.76H1V0.76H-1Z","symbolSize":289,"symbolStrokeWidth":0,"labelFontSize":17,"labelOffset":6,"rowPadding":4,
         "labelExpr":"datum.label == '40' ? '40 kPa,\u00a0\u00a0N=115' : datum.label == '4' ? '4 kPa,\u00a0\u00a0\u00a0\u00a0N=147' : '0.4 kPa, N=220'",
         "encode":{"symbols":{"update":{"fill":{"signal":"datum.value == '40' ? '#4472c4' : datum.value == '4' ? '#e8594f' : '#4caf3f'"},"fillOpacity":{"value":1},"strokeWidth":{"value":0},"opacity":{"value":1}}}}}}
      },
      "layer":[
       {"transform":[{"filter":"datum.k != 'm'"}],"mark":{"type":"line","strokeWidth":1,"clip":true},"encoding":{"detail":{"field":"k","type":"nominal"}}},
       {"transform":[{"filter":"datum.k == 'm'"}],"mark":{"type":"line","strokeWidth":5.5,"clip":true}}
      ]}
    ]
   }]
  }]},
  {"spacing":0,
   "resolve":{"scale":{"color":"independent"},"legend":{"color":"independent"}},
   "vconcat":[
   {"width":176,"height":46,
    "title":{"text":"(c)","anchor":"start","frame":"group","fontSize":25,"offset":-13,"dx":-77},
    "data":{"values":[{"z":0}]},
    "mark":{"type":"point","opacity":0},
    "encoding":{}},
   {"width":176,"height":178,
   "data":{"name":"c"},
   "encoding":{
    "x":{"field":"g","type":"nominal","sort":["40 kPa","4 kPa","0.4 kPa"],"scale":{"paddingInner":0.15,"paddingOuter":0.05},
     "axis":{"title":null,"labelAngle":35,"labelAlign":"center","labelBaseline":"middle","labelPadding":24,"labelFontSize":18,"domainWidth":1,"domainColor":"#222","ticks":false}},
    "xOffset":{"field":"s","type":"nominal","sort":["Fibronectin","Collagen Type IV"]}
   },
   "layer":[
    {"mark":{"type":"bar"},
     "encoding":{
      "y":{"field":"v","type":"quantitative","scale":{"domain":[0,120],"nice":false},
       "axis":{"values":[0,20,40,60,80,100,120],"title":["Mean Diffusion","Coefficient (µm²/min)"],"titleFontSize":20,"titleLineHeight":21,"titlePadding":0,"domainWidth":1,"domainColor":"#222","ticks":true,"tickSize":4,"tickColor":"#222","labelFontSize":12,"labelPadding":2}},
      "color":{"field":"s","type":"nominal","sort":["Fibronectin","Collagen Type IV"],"scale":{"domain":["Fibronectin","Collagen Type IV"],"range":["#2d2f86","#04a2e0"]},
       "legend":{"orient":"none","legendX":19,"legendY":242,"title":null,"symbolType":"M-1,-0.71H1V0.71H-1Z","symbolSize":576,"symbolStrokeWidth":0,"labelFontSize":17,"labelOffset":10,"rowPadding":0}}
     }},
    {"mark":{"type":"rule","color":"#000","strokeWidth":1},"encoding":{"y":{"field":"lo","type":"quantitative"},"y2":{"field":"hi"}}},
    {"mark":{"type":"tick","color":"#000","thickness":1,"size":5},"encoding":{"y":{"field":"hi","type":"quantitative"}}},
    {"mark":{"type":"tick","color":"#000","thickness":1,"size":5},"encoding":{"y":{"field":"lo","type":"quantitative"}}},
    {"mark":{"type":"text","baseline":"bottom","dy":-3,"fontSize":13},"encoding":{"y":{"field":"hi","type":"quantitative"},"text":{"field":"v","type":"quantitative","format":".1f"}}}
   ]
  }]}
 ]
}
]
}
